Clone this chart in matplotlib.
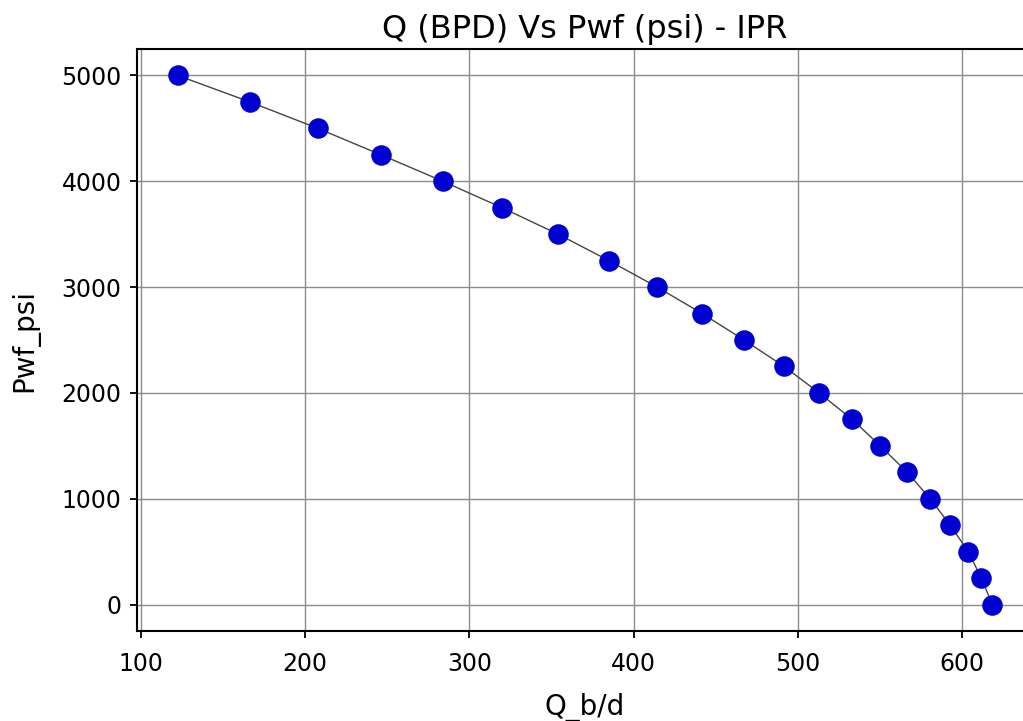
import numpy as np
import matplotlib
matplotlib.use('Agg')
import matplotlib.pyplot as plt

# Vogel IPR points
pwf_psi = [5000, 4750, 4500, 4250, 4000, 3750, 3500, 3250, 3000, 2750, 2500,
           2250, 2000, 1750, 1500, 1250, 1000, 750, 500, 250, 0]
q_bpd = [122.5, 166.4, 207.8, 246.2, 283.9, 319.9, 354.0, 385.0, 414.3, 441.7,
         467.2, 491.6, 512.9, 533.0, 550.1, 566.5, 580.5, 592.7, 603.7, 611.6,
         618.3]

fig = plt.figure(figsize=(10.23, 7.21), dpi=100)
ax = fig.add_axes([137 / 1023, 90 / 721, 896 / 1023, 582 / 721])

ax.plot(q_bpd, pwf_psi, color='#45453a', linewidth=1.0, zorder=2)
ax.scatter(q_bpd, pwf_psi, color='#0000d0', s=190, zorder=3)

ax.set_title('Q (BPD) Vs Pwf (psi) - IPR', fontsize=23, pad=8)
ax.set_xlabel('Q_b/d', fontsize=20, labelpad=12)
ax.set_ylabel('Pwf_psi', fontsize=20, labelpad=16)
ax.tick_params(labelsize=17, width=1.3, length=5, pad=6)
ax.tick_params(axis='x', pad=10)
ax.grid(True, color='#8c8c8c', linewidth=1.0)
for s in ax.spines.values():
    s.set_linewidth(1.5)

fig.savefig('out.png', dpi=100)
